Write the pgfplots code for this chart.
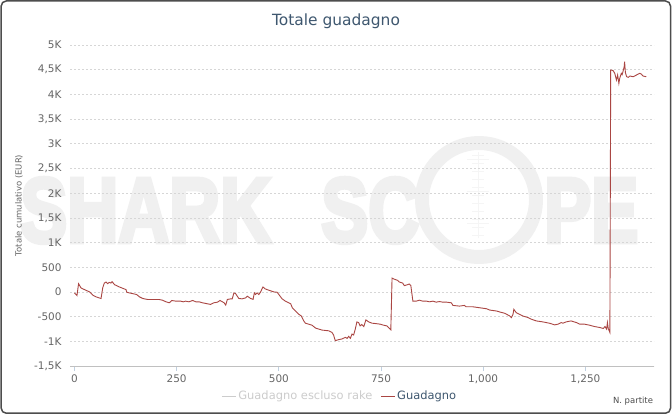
\documentclass[border=0pt]{standalone}
\usepackage{fontspec}
\setmainfont{DejaVu Sans}
\newfontfamily\wmfont{Liberation Sans}[BoldFont={Liberation Sans Bold}, BoldFeatures={FakeBold=5}]
\usepackage{graphicx}
\usepackage{pgfplots}
\pgfplotsset{compat=1.18}

\definecolor{titleblue}{HTML}{3E576F}
\definecolor{linered}{HTML}{AA4643}
\definecolor{gridgray}{HTML}{D6D6D6}
\definecolor{axisgray}{HTML}{C0C0C0}
\definecolor{tickblue}{HTML}{C0D0E0}
\definecolor{ticklab}{HTML}{666666}
\definecolor{leggray}{HTML}{CCCCCC}
\definecolor{wmgray}{HTML}{F0F0F0}
\definecolor{framegray}{HTML}{4D4D4D}

\begin{document}
\begin{tikzpicture}[x=1bp,y=1bp]
\useasboundingbox (0,0) rectangle (672,416);
\fill[white] (0,0) rectangle (672,416);

% watermark in the background
\node[anchor=base west, inner sep=0, text=wmgray] at (20,174)
  {\scalebox{0.77}[1]{\fontsize{92}{92}\wmfont\bfseries SHARK}};
\node[anchor=base west, inner sep=0, text=wmgray] at (321,174)
  {\scalebox{0.77}[1]{\fontsize{92}{92}\wmfont\bfseries SC}};
\node[anchor=base west, inner sep=0, text=wmgray] at (544,174)
  {\scalebox{0.77}[1]{\fontsize{92}{92}\wmfont\bfseries PE}};
\draw[wmgray, line width=14] (479,216) circle (57);
\draw[wmgray!70!white, line width=0.8] (478,178) -- (478,264);
\foreach \yy in {181,189,197,205,213,221,229,237,245,253,261}
  \draw[wmgray!70!white, line width=0.6] (472,\yy) -- (484,\yy);
\foreach \yy in {193,225,257}
  \draw[wmgray!70!white, line width=0.6] (467,\yy) -- (489,\yy);

\begin{axis}[
    at={(70bp,50bp)}, anchor=south west,
    scale only axis,
    width=584bp, height=321bp,
    xmin=-11, xmax=1418,
    ymin=-1500, ymax=5000,
    separate axis lines,
    axis x line*=bottom, axis y line*=left,
    x axis line style={draw=axisgray, line width=0.8bp},
    y axis line style={draw=none},
    xtick={0,250,500,750,1000,1250},
    xticklabels={0,250,500,750,{1,000},{1,250}},
    ytick={-1500,-1000,-500,0,500,1000,1500,2000,2500,3000,3500,4000,4500,5000},
    yticklabels={{-1,5K},{-1K},{-500},0,500,1K,{1,5K},2K,{2,5K},3K,{3,5K},4K,{4,5K},5K},
    xtick align=outside,
    major x tick style={draw=tickblue, line width=0.8bp},
    x tick style={/pgfplots/major tick length=5bp},
    y tick style={draw=none},
    ymajorgrids,
    grid style={gridgray, dash pattern=on 2bp off 2bp, line width=0.6bp},
    yticklabel style={font=\fontsize{10.5}{10.5}\selectfont, text=ticklab, anchor=east, xshift=-5bp},
    xticklabel style={font=\fontsize{10.5}{10.5}\selectfont, text=ticklab, anchor=north, yshift=-1bp},
    title={Totale guadagno},
    title style={font=\fontsize{15.5}{15.5}\selectfont, text=titleblue,
      at={(axis description cs:0.4555,1.042)}, anchor=base, inner sep=0},
    ylabel={Totale cumulativo (EUR)},
    ylabel style={font=\fontsize{8.5}{8.5}\selectfont, text=ticklab,
      at={(axis description cs:-0.0873,0.5)}, anchor=center, rotate=0},
    xlabel={N. partite},
    xlabel style={font=\fontsize{8.5}{8.5}\selectfont, text=black!70,
      at={(axis description cs:0.964,-0.109)}, anchor=center},
    legend style={at={(axis description cs:0.462,-0.094)}, anchor=center,
      draw=none, fill=none, font=\fontsize{11.5}{11.5}\selectfont,
      legend columns=2,
      /tikz/every even column/.append style={column sep=6bp}},
    legend image code/.code={\draw[#1] (0bp,0bp) -- (14bp,0bp);},
    clip=false,
]

\addlegendimage{leggray, line width=0.9bp}
\addlegendentry{\textcolor{leggray}{Guadagno escluso rake}}

\addplot[linered, line width=0.9bp] coordinates {
(0,-20) (6,-73) (10,167) (16,80) (28,33) (37,0) (45,-67) (53,-100) (65,-133)
(69,80) (73,180) (77,200) (81,167) (85,193) (89,180) (92,207) (98,147)
(110,100) (126,47) (128,-7) (134,-20) (142,-33) (152,-53) (159,-100)
(167,-133) (179,-153) (191,-153) (207,-153) (215,-167) (224,-200) (232,-220)
(238,-173) (248,-187) (260,-187) (266,-200) (272,-187) (280,-200) (289,-173)
(297,-200) (305,-200) (313,-220) (321,-233) (333,-253) (341,-220) (350,-207)
(356,-173) (362,-200) (366,-220) (370,-267) (374,-153) (382,-140) (386,-140)
(390,-20) (394,-33) (402,-133) (410,-140) (419,-120) (423,-87) (431,-133)
(437,-150) (440,-20) (443,-53) (447,-20) (451,-53) (455,-7) (461,100)
(467,60) (476,33) (488,0) (496,-7) (500,-53) (508,-140) (516,-187)
(524,-220) (529,-240) (533,-320) (541,-387) (549,-453) (555,-487)
(561,-587) (565,-633) (573,-653) (581,-673) (590,-733) (598,-753)
(606,-773) (622,-787) (630,-820) (634,-873) (638,-987) (646,-967)
(654,-953) (663,-920) (667,-940) (671,-900) (675,-940) (679,-853)
(683,-873) (687,-753) (691,-607) (695,-620) (699,-687) (703,-660)
(708,-700) (713,-567) (720,-607) (728,-633) (736,-640) (748,-653)
(756,-673) (764,-687) (774,-767) (777,280) (782,260) (791,233) (795,200)
(803,180) (807,127) (815,147) (819,160) (823,127) (828,-187) (836,-187)
(844,-167) (852,-187) (861,-187) (869,-200) (877,-187) (885,-207)
(893,-195) (901,-207) (910,-207) (922,-220) (926,-273) (942,-287)
(954,-273) (958,-300) (974,-300) (991,-320) (1008,-340) (1016,-367)
(1033,-387) (1041,-407) (1053,-433) (1065,-487) (1069,-520) (1073,-453)
(1075,-353) (1081,-420) (1089,-453) (1097,-487) (1110,-520) (1118,-553)
(1130,-587) (1146,-607) (1162,-633) (1175,-667) (1183,-653) (1191,-620)
(1195,-633) (1203,-607) (1215,-587) (1228,-620) (1236,-653) (1248,-653)
(1260,-673) (1272,-700) (1285,-720) (1294,-740) (1298,-700) (1302,-753)
(1304,-620) (1306,-740) (1310,-820) (1312,4493) (1314,4493) (1318,4480)
(1322,4426) (1326,4290) (1329,4392) (1332,4223) (1334,4324) (1338,4426)
(1340,4400) (1342,4460) (1345,4561) (1346,4662) (1348,4439) (1351,4358)
(1355,4345) (1359,4372) (1367,4358) (1375,4392) (1383,4426) (1387,4410)
(1391,4372) (1399,4358)
};
\addlegendentry{\textcolor{titleblue}{Guadagno}}
\end{axis}

\draw[framegray, line width=1.5bp, rounded corners=5bp] (1.2,2.8) rectangle (670.5,415);
\end{tikzpicture}
\end{document}
